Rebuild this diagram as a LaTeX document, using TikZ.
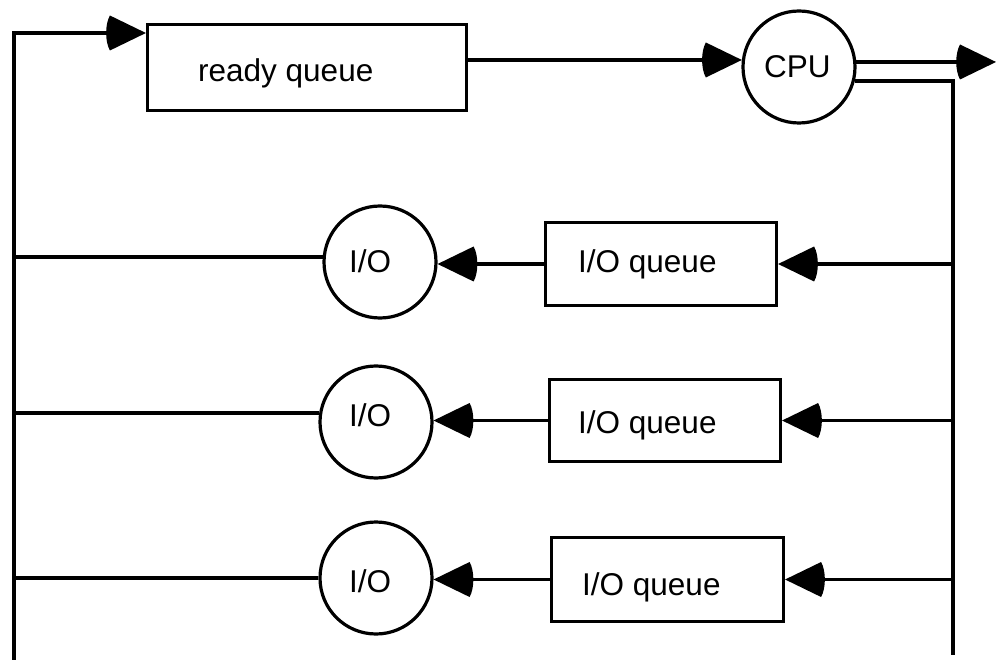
\documentclass[tikz,border=0pt]{standalone}
\usepackage{fontspec}
\setmainfont{Liberation Sans}
\usetikzlibrary{arrows.meta}

% Filled arrow head with a rounded (convex) back
\pgfdeclarearrow{
  name = RoundBack,
  setup code = {
    \pgfarrowssettipend{0pt}
    \pgfarrowssetbackend{-41pt}
    \pgfarrowssetlineend{-30pt}
    \pgfarrowssetvisualbackend{-36pt}
  },
  drawing code = {
    \pgfpathmoveto{\pgfpoint{0pt}{0pt}}
    \pgfpathlineto{\pgfpoint{-36pt}{17.5pt}}
    \pgfpathcurveto{\pgfpoint{-41pt}{8.5pt}}{\pgfpoint{-41pt}{-8.5pt}}{\pgfpoint{-36pt}{-17.5pt}}
    \pgfpathclose
    \pgfusepathqfill
  }
}

\tikzset{
  ln/.style={line width=3.2pt},
  flow/.style={line width=3.2pt, -{RoundBack}},
  qbox/.style={draw, line width=3.2pt, inner sep=0pt},
  proc/.style={draw, circle, line width=3.2pt, minimum size=112pt, inner sep=0pt},
  txt/.style={anchor=base west, inner sep=0pt, font=\fontsize{31.5}{36}\selectfont},
}

\begin{document}
\begin{tikzpicture}[x=1pt, y=-1pt]
  \useasboundingbox (0,0) rectangle (996,660);

  % queues
  \node[qbox, minimum width=319pt, minimum height=86pt] (rq) at (307,67.5) {};
  \node[qbox, minimum width=231pt, minimum height=83pt] (q1) at (661,264) {};
  \node[qbox, minimum width=231pt, minimum height=82pt] (q2) at (665,420.5) {};
  \node[qbox, minimum width=232pt, minimum height=84pt] (q3) at (667.5,579.5) {};

  % servers
  \node[proc] (cpu) at (799,67) {};
  \node[proc] (io1) at (380,262) {};
  \node[proc] (io2) at (376,422) {};
  \node[proc] (io3) at (376,578) {};

  % labels
  \node[txt] (rqt) at (198,82) {ready queue};
  \node[txt] (cput) at (764,78) {CPU};
  \node[txt] (q1t) at (578,273) {I/O queue};
  \node[txt] (q2t) at (578,433) {I/O queue};
  \node[txt] (q3t) at (582,595) {I/O queue};
  \node[txt] (io1t) at (349,273) {I/O};
  \node[txt] (io2t) at (349,426) {I/O};
  \node[txt] (io3t) at (349,592) {I/O};

  % rails
  \coordinate (lt) at (14,33);
  \coordinate (lb) at (14,660);
  \coordinate (rb) at (953,655);
  \coordinate (out) at (996,62);

  % ready queue -> CPU -> out
  \draw[flow] (lb) -- (lt) -- (lt -| rq.west);
  \draw[flow] (rq.east |- cpu.173) -- (cpu.173);
  \draw[flow] (cpu.5) -- (cpu.5 -| out);
  \draw[ln] (cpu.-14) -- (cpu.-14 -| rb) -- (rb);

  % I/O branches
  \draw[flow] (rb |- q1.east) -- (q1.east);
  \draw[flow] (rb |- q2.east) -- (q2.east);
  \draw[flow] (rb |- q3.east) -- (q3.east);
  \draw[flow] (q1.west) -- (q1.west -| io1.east);
  \draw[flow] (q2.west) -- (q2.west -| io2.east);
  \draw[flow] (q3.west) -- (q3.west -| io3.east);
  \draw[ln] (io1.175) -- (io1.175 -| lb);
  \draw[ln] (io2.171) -- (io2.171 -| lb);
  \draw[ln] (io3.west) -- (io3.west -| lb);
\end{tikzpicture}
\end{document}
